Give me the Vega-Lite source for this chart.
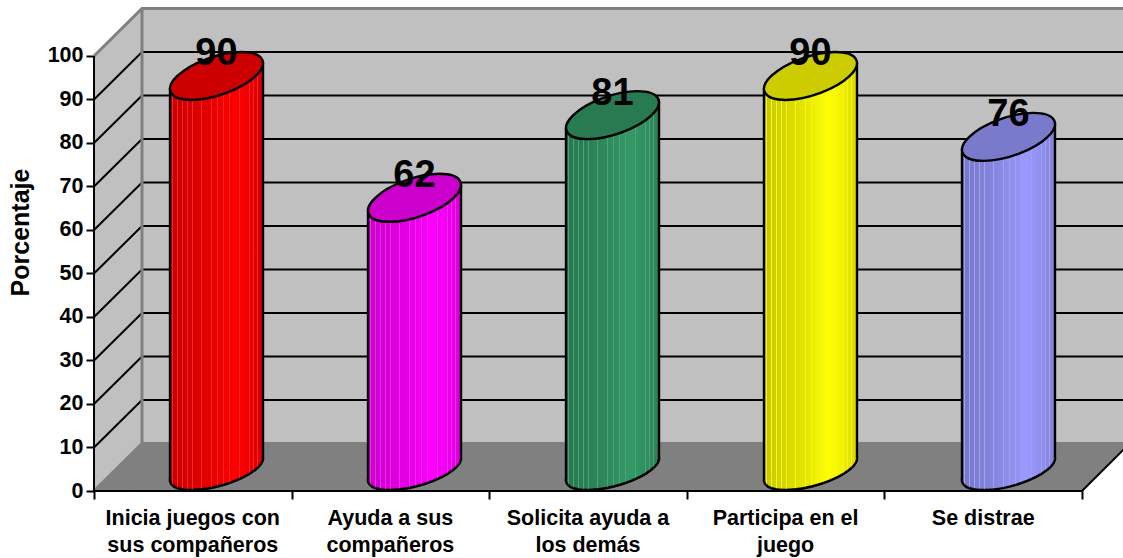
{
"$schema":"https://vega.github.io/schema/vega-lite/v6.json",
"width":1029,"height":491,
"autosize":"none",
"padding":{"left":94,"top":0,"right":0,"bottom":67},
"background":"white",
"view":{"stroke":null},
"config":{"font":"Liberation Sans"},
"datasets":{
"paredes":[{"x":0,"y":100,"y2":0},{"x":0.2429,"y":110.92,"y2":10.92}],
"fondo":[{"x":0.2429,"y":110.92,"y2":10.92},{"x":5.21,"y":110.92,"y2":10.92}],
"piso":[{"x":0,"y":0,"y2":0},{"x":0.2429,"y":10.92,"y2":0},{"x":5,"y":10.92,"y2":0},{"x":5.21,"y":10.92,"y2":9.5}],
"rejilla":[
{"n":10,"x":0,"y":10},{"n":10,"x":0.2429,"y":20.92},{"n":10,"x":5.21,"y":20.92},
{"n":20,"x":0,"y":20},{"n":20,"x":0.2429,"y":30.92},{"n":20,"x":5.21,"y":30.92},
{"n":30,"x":0,"y":30},{"n":30,"x":0.2429,"y":40.92},{"n":30,"x":5.21,"y":40.92},
{"n":40,"x":0,"y":40},{"n":40,"x":0.2429,"y":50.92},{"n":40,"x":5.21,"y":50.92},
{"n":50,"x":0,"y":50},{"n":50,"x":0.2429,"y":60.92},{"n":50,"x":5.21,"y":60.92},
{"n":60,"x":0,"y":60},{"n":60,"x":0.2429,"y":70.92},{"n":60,"x":5.21,"y":70.92},
{"n":70,"x":0,"y":70},{"n":70,"x":0.2429,"y":80.92},{"n":70,"x":5.21,"y":80.92},
{"n":80,"x":0,"y":80},{"n":80,"x":0.2429,"y":90.92},{"n":80,"x":5.21,"y":90.92},
{"n":90,"x":0,"y":90},{"n":90,"x":0.2429,"y":100.92},{"n":90,"x":5.21,"y":100.92}],
"bordes":[
{"n":"techo","x":0,"y":100},{"n":"techo","x":0.2429,"y":110.92},{"n":"techo","x":5.21,"y":110.92},
{"n":"arista","x":0.2429,"y":10.92},{"n":"arista","x":0.2429,"y":110.92},
{"n":"suelo","x":0,"y":0},{"n":"suelo","x":0.2429,"y":10.92},{"n":"suelo","x":5.21,"y":10.92}],
"frente":[{"x":0,"y":0},{"x":5,"y":0},{"x":5.21,"y":9.5}],
"vertical":[{"x":0,"y":100,"y2":0}],
"rotulos":[
{"x":0.5,"y":0,"texto":["Inicia juegos con","sus compañeros"]},
{"x":1.5,"y":0,"texto":["Ayuda a sus","compañeros"]},
{"x":2.5,"y":0,"texto":["Solicita ayuda a","los demás"]},
{"x":3.5,"y":0,"texto":["Participa en el","juego"]},
{"x":4.5,"y":0,"texto":["Se distrae"]}],
"bases":[
{"x":0.62,"y":0,"conducta":"Inicia juegos con sus compañeros"},
{"x":1.622,"y":0,"conducta":"Ayuda a sus compañeros"},
{"x":2.624,"y":0,"conducta":"Solicita ayuda a los demás"},
{"x":3.626,"y":0,"conducta":"Participa en el juego"},
{"x":4.628,"y":0,"conducta":"Se distrae"}],
"valores":[
{"x":0.62,"y":90,"conducta":"Inicia juegos con sus compañeros"},
{"x":1.622,"y":62,"conducta":"Ayuda a sus compañeros"},
{"x":2.624,"y":81,"conducta":"Solicita ayuda a los demás"},
{"x":3.626,"y":90,"conducta":"Participa en el juego"},
{"x":4.628,"y":76,"conducta":"Se distrae"}],
"cuerpos":[
{"x":0.3847,"y":92.5,"y2":2.41,"conducta":"Inicia juegos con sus compañeros"},
{"x":0.8553,"y":98.3,"y2":7.47,"conducta":"Inicia juegos con sus compañeros"},
{"x":1.3867,"y":64.5,"y2":2.41,"conducta":"Ayuda a sus compañeros"},
{"x":1.8573,"y":70.3,"y2":7.47,"conducta":"Ayuda a sus compañeros"},
{"x":2.3887,"y":83.5,"y2":2.41,"conducta":"Solicita ayuda a los demás"},
{"x":2.8593,"y":89.3,"y2":7.47,"conducta":"Solicita ayuda a los demás"},
{"x":3.3907,"y":92.5,"y2":2.41,"conducta":"Participa en el juego"},
{"x":3.8613,"y":98.3,"y2":7.47,"conducta":"Participa en el juego"},
{"x":4.3927,"y":78.5,"y2":2.41,"conducta":"Se distrae"},
{"x":4.8633,"y":84.3,"y2":7.47,"conducta":"Se distrae"}]
},
"encoding":{
"x":{"field":"x","type":"quantitative","scale":{"domain":[0,5.2075],"nice":false,"zero":false},
"axis":{"values":[0,1,2,3,4,5],"labels":false,"title":null,"grid":false,"domain":false,"tickColor":"black","tickWidth":2,"tickSize":8}},
"y":{"field":"y","type":"quantitative","scale":{"domain":[0,112.87],"nice":false,"zero":false},
"axis":{"values":[0,10,20,30,40,50,60,70,80,90,100],"grid":false,"domain":false,"tickColor":"black","tickWidth":2,"tickSize":8,"labelPadding":3,
"labelFont":"Liberation Sans","labelFontWeight":"bold","labelFontSize":21.5,"labelColor":"black",
"title":"Porcentaje","titleFont":"Liberation Sans","titleFontWeight":"bold","titleFontSize":25,"titleColor":"black","titleX":-61,"titleY":232,"titleAlign":"center","titleAngle":-90}}
},
"layer":[
{"data":{"name":"paredes"},"mark":{"type":"area","fill":"#C0C0C0","opacity":1},"encoding":{"y2":{"field":"y2"}}},
{"data":{"name":"fondo"},"mark":{"type":"area","fill":"#C0C0C0","opacity":1},"encoding":{"y2":{"field":"y2"}}},
{"data":{"name":"piso"},"mark":{"type":"area","fill":"#808080","opacity":1},"encoding":{"y2":{"field":"y2"}}},
{"data":{"name":"rejilla"},"mark":{"type":"line","stroke":"black","strokeWidth":2},"encoding":{"detail":{"field":"n"}}},
{"data":{"name":"bordes"},"mark":{"type":"line","stroke":"#808080","strokeWidth":3},"encoding":{"detail":{"field":"n"},"order":{"value":null}}},
{"data":{"name":"frente"},"mark":{"type":"line","stroke":"black","strokeWidth":2},"encoding":{}},
{"data":{"name":"vertical"},"mark":{"type":"rule","stroke":"black","strokeWidth":2},"encoding":{"y2":{"field":"y2"}}},
{"data":{"name":"rotulos"},"mark":{"type":"text","baseline":"top","align":"center","dy":17,"lineHeight":27,"font":"Liberation Sans","fontWeight":"bold","fontSize":21.5,"fill":"black"},"encoding":{"text":{"field":"texto"}}},
{"data":{"name":"bases"},
 "mark":{"type":"point","filled":true,"size":4,"opacity":1,"yOffset":-21.5,"stroke":"black","strokeWidth":2.4,"strokeOpacity":1,
 "shape":"M39.2 0C53.01 -11.32 46.65 -20.5 25 -20.5C3.35 -20.5 -25.39 -11.32 -39.2 0C-53.01 11.32 -46.65 20.5 -25 20.5C-3.35 20.5 25.39 11.32 39.2 0Z"},
 "encoding":{"fill":{"field":"conducta","type":"nominal","legend":null,"scale":{"domain":["Inicia juegos con sus compañeros","Ayuda a sus compañeros","Solicita ayuda a los demás","Participa en el juego","Se distrae"],"range":["#FF0000","#FF00FF","#339966","#FFFF00","#9999FF"]}}}},
{"data":{"name":"bases"},
 "mark":{"type":"point","filled":true,"size":4,"opacity":1,"yOffset":-21.5,
 "shape":"M39.2 0C53.01 -11.32 46.65 -20.5 25 -20.5C3.35 -20.5 -25.39 -11.32 -39.2 0C-53.01 11.32 -46.65 20.5 -25 20.5C-3.35 20.5 25.39 11.32 39.2 0Z",
 "fill":{"gradient":"linear","x1":0,"x2":1,"y1":0,"y2":0,"stops":[
{"offset":0,"color":"rgba(0,0,0,0.22)"},
{"offset":0.025,"color":"rgba(0,0,0,0.213)"},{"offset":0.025,"color":"rgba(192,192,192,0.2)"},{"offset":0.036,"color":"rgba(192,192,192,0.2)"},{"offset":0.036,"color":"rgba(0,0,0,0.21)"},
{"offset":0.071,"color":"rgba(0,0,0,0.201)"},{"offset":0.071,"color":"rgba(192,192,192,0.2)"},{"offset":0.082,"color":"rgba(192,192,192,0.2)"},{"offset":0.082,"color":"rgba(0,0,0,0.198)"},
{"offset":0.125,"color":"rgba(0,0,0,0.187)"},{"offset":0.125,"color":"rgba(192,192,192,0.2)"},{"offset":0.136,"color":"rgba(192,192,192,0.2)"},{"offset":0.136,"color":"rgba(0,0,0,0.184)"},
{"offset":0.186,"color":"rgba(0,0,0,0.17)"},{"offset":0.186,"color":"rgba(192,192,192,0.2)"},{"offset":0.197,"color":"rgba(192,192,192,0.2)"},{"offset":0.197,"color":"rgba(0,0,0,0.167)"},
{"offset":0.24,"color":"rgba(0,0,0,0.156)"},{"offset":0.24,"color":"rgba(192,192,192,0.2)"},{"offset":0.251,"color":"rgba(192,192,192,0.2)"},{"offset":0.251,"color":"rgba(0,0,0,0.153)"},
{"offset":0.329,"color":"rgba(0,0,0,0.131)"},{"offset":0.329,"color":"rgba(192,192,192,0.2)"},{"offset":0.34,"color":"rgba(192,192,192,0.2)"},{"offset":0.34,"color":"rgba(0,0,0,0.128)"},
{"offset":0.44,"color":"rgba(0,0,0,0.098)"},{"offset":0.44,"color":"rgba(192,192,192,0.2)"},{"offset":0.451,"color":"rgba(192,192,192,0.2)"},{"offset":0.451,"color":"rgba(0,0,0,0.095)"},
{"offset":0.507,"color":"rgba(0,0,0,0.077)"},{"offset":0.507,"color":"rgba(192,192,192,0.2)"},{"offset":0.518,"color":"rgba(192,192,192,0.2)"},{"offset":0.518,"color":"rgba(0,0,0,0.072)"},
{"offset":0.571,"color":"rgba(0,0,0,0.048)"},{"offset":0.571,"color":"rgba(192,192,192,0.2)"},{"offset":0.582,"color":"rgba(192,192,192,0.2)"},{"offset":0.582,"color":"rgba(0,0,0,0.044)"},
{"offset":0.636,"color":"rgba(0,0,0,0.02)"},{"offset":0.636,"color":"rgba(192,192,192,0.2)"},{"offset":0.647,"color":"rgba(192,192,192,0.2)"},{"offset":0.647,"color":"rgba(0,0,0,0.015)"},
{"offset":0.68,"color":"rgba(0,0,0,0)"},
{"offset":0.74,"color":"rgba(0,0,0,0.015)"},{"offset":0.74,"color":"rgba(192,192,192,0.2)"},{"offset":0.751,"color":"rgba(192,192,192,0.2)"},{"offset":0.751,"color":"rgba(0,0,0,0.018)"},
{"offset":0.85,"color":"rgba(0,0,0,0.063)"},{"offset":0.85,"color":"rgba(192,192,192,0.2)"},{"offset":0.861,"color":"rgba(192,192,192,0.2)"},{"offset":0.861,"color":"rgba(0,0,0,0.07)"},
{"offset":0.893,"color":"rgba(0,0,0,0.09)"},{"offset":0.893,"color":"rgba(192,192,192,0.2)"},{"offset":0.904,"color":"rgba(192,192,192,0.2)"},{"offset":0.904,"color":"rgba(0,0,0,0.098)"},
{"offset":0.936,"color":"rgba(0,0,0,0.118)"},{"offset":0.936,"color":"rgba(192,192,192,0.2)"},{"offset":0.947,"color":"rgba(192,192,192,0.2)"},{"offset":0.947,"color":"rgba(0,0,0,0.126)"},
{"offset":1,"color":"rgba(0,0,0,0.16)"}]}},
 "encoding":{}},
{"data":{"name":"cuerpos"},"mark":{"type":"area","opacity":1},
 "encoding":{"y2":{"field":"y2"},"fill":{"field":"conducta","type":"nominal","legend":null}}},
{"data":{"name":"cuerpos"},"mark":{"type":"area","opacity":1,
 "fill":{"gradient":"linear","x1":0,"x2":1,"y1":0,"y2":0,"stops":[
{"offset":0,"color":"rgba(0,0,0,0.22)"},
{"offset":0.025,"color":"rgba(0,0,0,0.213)"},{"offset":0.025,"color":"rgba(192,192,192,0.2)"},{"offset":0.036,"color":"rgba(192,192,192,0.2)"},{"offset":0.036,"color":"rgba(0,0,0,0.21)"},
{"offset":0.071,"color":"rgba(0,0,0,0.201)"},{"offset":0.071,"color":"rgba(192,192,192,0.2)"},{"offset":0.082,"color":"rgba(192,192,192,0.2)"},{"offset":0.082,"color":"rgba(0,0,0,0.198)"},
{"offset":0.125,"color":"rgba(0,0,0,0.187)"},{"offset":0.125,"color":"rgba(192,192,192,0.2)"},{"offset":0.136,"color":"rgba(192,192,192,0.2)"},{"offset":0.136,"color":"rgba(0,0,0,0.184)"},
{"offset":0.186,"color":"rgba(0,0,0,0.17)"},{"offset":0.186,"color":"rgba(192,192,192,0.2)"},{"offset":0.197,"color":"rgba(192,192,192,0.2)"},{"offset":0.197,"color":"rgba(0,0,0,0.167)"},
{"offset":0.24,"color":"rgba(0,0,0,0.156)"},{"offset":0.24,"color":"rgba(192,192,192,0.2)"},{"offset":0.251,"color":"rgba(192,192,192,0.2)"},{"offset":0.251,"color":"rgba(0,0,0,0.153)"},
{"offset":0.329,"color":"rgba(0,0,0,0.131)"},{"offset":0.329,"color":"rgba(192,192,192,0.2)"},{"offset":0.34,"color":"rgba(192,192,192,0.2)"},{"offset":0.34,"color":"rgba(0,0,0,0.128)"},
{"offset":0.44,"color":"rgba(0,0,0,0.098)"},{"offset":0.44,"color":"rgba(192,192,192,0.2)"},{"offset":0.451,"color":"rgba(192,192,192,0.2)"},{"offset":0.451,"color":"rgba(0,0,0,0.095)"},
{"offset":0.507,"color":"rgba(0,0,0,0.077)"},{"offset":0.507,"color":"rgba(192,192,192,0.2)"},{"offset":0.518,"color":"rgba(192,192,192,0.2)"},{"offset":0.518,"color":"rgba(0,0,0,0.072)"},
{"offset":0.571,"color":"rgba(0,0,0,0.048)"},{"offset":0.571,"color":"rgba(192,192,192,0.2)"},{"offset":0.582,"color":"rgba(192,192,192,0.2)"},{"offset":0.582,"color":"rgba(0,0,0,0.044)"},
{"offset":0.636,"color":"rgba(0,0,0,0.02)"},{"offset":0.636,"color":"rgba(192,192,192,0.2)"},{"offset":0.647,"color":"rgba(192,192,192,0.2)"},{"offset":0.647,"color":"rgba(0,0,0,0.015)"},
{"offset":0.68,"color":"rgba(0,0,0,0)"},
{"offset":0.74,"color":"rgba(0,0,0,0.015)"},{"offset":0.74,"color":"rgba(192,192,192,0.2)"},{"offset":0.751,"color":"rgba(192,192,192,0.2)"},{"offset":0.751,"color":"rgba(0,0,0,0.018)"},
{"offset":0.85,"color":"rgba(0,0,0,0.063)"},{"offset":0.85,"color":"rgba(192,192,192,0.2)"},{"offset":0.861,"color":"rgba(192,192,192,0.2)"},{"offset":0.861,"color":"rgba(0,0,0,0.07)"},
{"offset":0.893,"color":"rgba(0,0,0,0.09)"},{"offset":0.893,"color":"rgba(192,192,192,0.2)"},{"offset":0.904,"color":"rgba(192,192,192,0.2)"},{"offset":0.904,"color":"rgba(0,0,0,0.098)"},
{"offset":0.936,"color":"rgba(0,0,0,0.118)"},{"offset":0.936,"color":"rgba(192,192,192,0.2)"},{"offset":0.947,"color":"rgba(192,192,192,0.2)"},{"offset":0.947,"color":"rgba(0,0,0,0.126)"},
{"offset":1,"color":"rgba(0,0,0,0.16)"}]}},
 "encoding":{"y2":{"field":"y2"},"detail":{"field":"conducta"}}},
{"data":{"name":"cuerpos"},"mark":{"type":"rule","stroke":"black","strokeWidth":2.4},"encoding":{"y2":{"field":"y2"}}},
{"data":{"name":"valores"},
 "mark":{"type":"point","filled":true,"size":4,"opacity":1,"yOffset":-23.5,"stroke":"black","strokeWidth":2.4,"strokeOpacity":1,
 "shape":"M39.2 0C53.01 -13.26 46.65 -24 25 -24C3.35 -24 -25.39 -13.26 -39.2 0C-53.01 13.26 -46.65 24 -25 24C-3.35 24 25.39 13.26 39.2 0Z"},
 "encoding":{"fill":{"field":"conducta","type":"nominal","legend":null}}},
{"data":{"name":"valores"},
 "mark":{"type":"point","filled":true,"size":4,"opacity":1,"yOffset":-23.5,"fill":"black","fillOpacity":0.2,
 "shape":"M39.2 0C53.01 -13.26 46.65 -24 25 -24C3.35 -24 -25.39 -13.26 -39.2 0C-53.01 13.26 -46.65 24 -25 24C-3.35 24 25.39 13.26 39.2 0Z"},
 "encoding":{}},
{"data":{"name":"valores"},"mark":{"type":"text","align":"center","baseline":"middle","dy":-45,"font":"Liberation Sans","fontWeight":"bold","fontSize":38,"fill":"black"},"encoding":{"text":{"field":"y","type":"quantitative"}}}
]
}
